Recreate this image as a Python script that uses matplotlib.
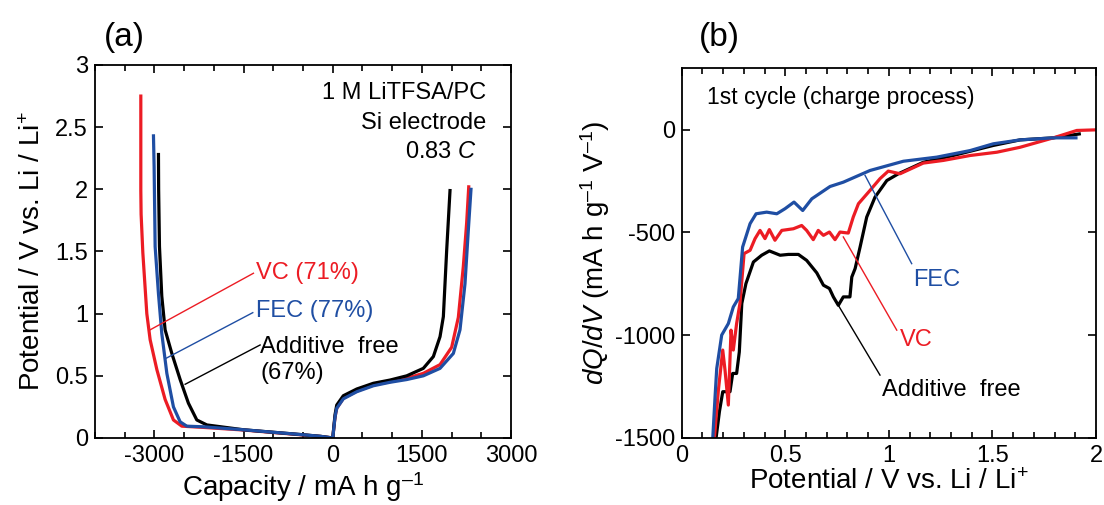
import matplotlib
matplotlib.use('Agg')
from matplotlib import pyplot as plt
from matplotlib.ticker import MultipleLocator

plt.rcParams['font.family'] = ['Liberation Sans', 'DejaVu Sans']
plt.rcParams['mathtext.fontset'] = 'custom'
plt.rcParams['mathtext.rm'] = 'Liberation Sans'
plt.rcParams['mathtext.it'] = 'Liberation Sans:italic'
plt.rcParams['axes.unicode_minus'] = False

RED = '#ec1c24'
BLUE = '#1f4ea3'
BLACK = '#000000'

# (a) charge/discharge curves, capacity in mA h g-1, potential in V
red_dis_x = [-3230, -3230, -3225, -3196, -3129, -3073, -2960, -2821, -2681, -2540, -2176, -1500, -500, -200, 0]
red_dis_y = [2.75, 1.99, 1.80, 1.49, 1.00, 0.79, 0.55, 0.31, 0.145, 0.095, 0.085, 0.064, 0.024, 0.012, 0]
blue_dis_x = [-3017, -3006, -2989, -2933, -2877, -2792, -2681, -2568, -2456, -2176, -1500, -500, -200, 0]
blue_dis_y = [2.43, 2.18, 1.54, 1.16, 0.84, 0.52, 0.25, 0.13, 0.095, 0.09, 0.066, 0.026, 0.013, 0]
black_dis_x = [-2933, -2930, -2916, -2877, -2821, -2708, -2568, -2429, -2288, -2119, -1500, -500, -200, 0]
black_dis_y = [2.28, 2.0, 1.54, 1.14, 0.87, 0.68, 0.47, 0.28, 0.145, 0.105, 0.066, 0.026, 0.013, 0]

red_chg_x = [0, 20, 39, 67, 178, 404, 683, 964, 1245, 1524, 1805, 2001, 2113, 2197, 2253, 2288]
red_chg_y = [0, 0.09, 0.171, 0.239, 0.319, 0.377, 0.426, 0.453, 0.48, 0.52, 0.59, 0.73, 0.97, 1.38, 1.73, 2.02]
blue_chg_x = [0, 20, 39, 67, 178, 404, 683, 964, 1245, 1524, 1805, 2029, 2141, 2225, 2281, 2326]
blue_chg_y = [0, 0.09, 0.171, 0.239, 0.315, 0.372, 0.42, 0.448, 0.47, 0.5, 0.56, 0.68, 0.87, 1.24, 1.67, 2.0]
black_chg_x = [0, 20, 39, 67, 178, 404, 683, 964, 1245, 1524, 1693, 1805, 1861, 1917, 1973]
black_chg_y = [0, 0.1, 0.19, 0.265, 0.34, 0.394, 0.44, 0.466, 0.5, 0.56, 0.655, 0.815, 0.976, 1.51, 1.99]

# (b) dQ/dV curves, potential in V, dQ/dV in mA h g-1 V-1
fec_v = [0.150, 0.161, 0.169, 0.193, 0.225, 0.249, 0.273, 0.294, 0.33, 0.359, 0.41, 0.459, 0.499,
         0.542, 0.584, 0.628, 0.716, 0.78, 0.909, 1.07, 1.231, 1.392, 1.504, 1.633, 1.794, 1.903]
fec_q = [-1500, -1300, -1163, -1000, -944, -863, -822, -571, -457, -409, -401, -409, -384,
         -352, -393, -336, -276, -255, -198, -153, -133, -101, -68, -49, -39, -39]
vc_v = [0.158, 0.177, 0.198, 0.209, 0.225, 0.238, 0.249, 0.265, 0.281, 0.301, 0.33, 0.354, 0.378,
        0.402, 0.423, 0.45, 0.483, 0.539, 0.579, 0.603, 0.635, 0.659, 0.684, 0.713, 0.74, 0.764,
        0.804, 0.828, 0.853, 0.909, 0.957, 0.997, 1.054, 1.166, 1.263, 1.392, 1.521, 1.633, 1.794,
        1.907, 2.0]
vc_q = [-1500, -1268, -1073, -1171, -1341, -976, -1073, -944, -846, -603, -587, -530, -490,
        -530, -486, -538, -490, -482, -466, -490, -535, -490, -514, -498, -535, -498,
        -503, -425, -360, -295, -238, -201, -214, -162, -149, -125, -109, -85, -39,
        -3, 0]
free_v = [0.166, 0.182, 0.198, 0.233, 0.246, 0.265, 0.278, 0.29, 0.31, 0.346, 0.386, 0.423, 0.475,
          0.515, 0.563, 0.603, 0.652, 0.684, 0.713, 0.732, 0.756, 0.78, 0.812, 0.821, 0.837, 0.861,
          0.893, 0.933, 0.99, 1.046, 1.166, 1.311, 1.504, 1.633, 1.794, 1.919]
free_q = [-1500, -1373, -1276, -1276, -1187, -1187, -1082, -846, -749, -644, -611, -590, -611,
          -607, -607, -636, -697, -757, -773, -814, -855, -814, -814, -717, -676, -571,
          -425, -328, -247, -214, -158, -125, -76, -49, -39, -20]

fig = plt.figure(figsize=(11.04, 5.05), dpi=100)
ax1 = fig.add_axes([0.0861, 0.1327, 0.3768, 0.7386])
ax2 = fig.add_axes([0.6175, 0.1333, 0.3753, 0.7315])

lw = 2.3
ax1.plot(red_dis_x, red_dis_y, color=RED, lw=lw)
ax1.plot(red_chg_x, red_chg_y, color=RED, lw=lw)
ax1.plot(black_dis_x, black_dis_y, color=BLACK, lw=lw)
ax1.plot(black_chg_x, black_chg_y, color=BLACK, lw=lw)
ax1.plot(blue_dis_x, blue_dis_y, color=BLUE, lw=lw)
ax1.plot(blue_chg_x, blue_chg_y, color=BLUE, lw=lw)

ax1.set_xlim(-4000, 3000)
ax1.set_ylim(0, 3)
ax1.xaxis.set_major_locator(MultipleLocator(1500))
ax1.xaxis.set_minor_locator(MultipleLocator(500))
ax1.set_yticks([0, 0.5, 1, 1.5, 2, 2.5, 3], ['0', '0.5', '1', '1.5', '2', '2.5', '3'])
ax1.set_xlabel('Capacity / mA h g$^{\u2013 1}$', fontsize=20, labelpad=2)
ax1.set_ylabel('Potential / V vs. Li / Li$^{+}$', fontsize=20, labelpad=7)

ax1.text(0.94, 0.925, '1 M LiTFSA/PC', transform=ax1.transAxes, ha='right', va='center', fontsize=17)
ax1.text(0.94, 0.845, 'Si electrode', transform=ax1.transAxes, ha='right', va='center', fontsize=17)
ax1.text(0.918, 0.768, '0.83 $\\mathit{C}$', transform=ax1.transAxes, ha='right', va='center', fontsize=17)

ax1.plot([-3073, -1335], [0.87, 1.325], color=RED, lw=1)
ax1.plot([-2809, -1346], [0.64, 1.008], color=BLUE, lw=1)
ax1.plot([-2484, -1223], [0.432, 0.748], color=BLACK, lw=1)
ax1.text(-1290, 1.33, 'VC (71%)', color=RED, fontsize=17, va='center')
ax1.text(-1290, 1.02, 'FEC (77%)', color=BLUE, fontsize=17, va='center')
ax1.text(-1223, 0.735, 'Additive  free', color=BLACK, fontsize=17, va='center')
ax1.text(-1223, 0.52, '(67%)', color=BLACK, fontsize=17, va='center')

ax2.plot(free_v, free_q, color=BLACK, lw=lw)
ax2.plot(vc_v, vc_q, color=RED, lw=lw)
ax2.plot(fec_v, fec_q, color=BLUE, lw=lw)

ax2.set_xlim(0, 2)
ax2.set_ylim(-1500, 300)
ax2.xaxis.set_minor_locator(MultipleLocator(0.1))
ax2.set_xticks([0, 0.5, 1, 1.5, 2], ['0', '0.5', '1', '1.5', '2'])
ax2.yaxis.set_major_locator(MultipleLocator(500))
ax2.set_xlabel('Potential / V vs. Li / Li$^{+}$', fontsize=20, labelpad=2)
ax2.set_ylabel('$\\mathit{dQ/dV}$ (mA h g$^{\u2013 1}$ V$^{\u2013 1}$)', fontsize=20, labelpad=2)

ax2.text(0.124, 158, '1st cycle (charge process)', fontsize=16.5, va='center')
ax2.plot([0.885, 1.11], [-222, -652], color=BLUE, lw=1)
ax2.plot([0.78, 1.038], [-522, -976], color=RED, lw=1)
ax2.plot([0.756, 0.957], [-855, -1195], color=BLACK, lw=1)
ax2.text(1.115, -733, 'FEC', color=BLUE, fontsize=17, va='center')
ax2.text(1.054, -1024, 'VC', color=RED, fontsize=17, va='center')
ax2.text(0.965, -1268, 'Additive  free', color=BLACK, fontsize=17, va='center')

for ax in (ax1, ax2):
    ax.tick_params(which='both', direction='in', top=True, right=True, labelsize=17, width=1.2, pad=5)
    ax.tick_params(which='major', length=6)
    ax.tick_params(which='minor', length=4)
    for s in ax.spines.values():
        s.set_linewidth(1.3)

fig.text(0.113, 0.926, '(a)', fontsize=24, ha='center', va='center')
fig.text(0.652, 0.926, '(b)', fontsize=24, ha='center', va='center')

fig.savefig('out.png', dpi=100)
